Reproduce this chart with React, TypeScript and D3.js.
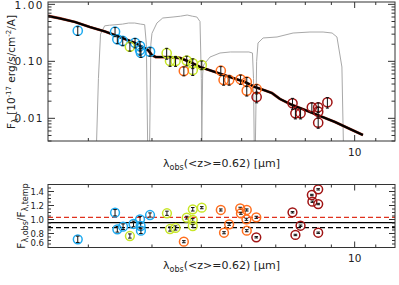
import React, { useEffect, useRef } from 'react';
import * as d3 from 'd3';

// Observed-frame template SED [lambda (um), F_lambda]
const templateLam = [2.5, 2.64, 2.825, 3.02, 3.235, 3.46, 3.705, 3.93, 4.0, 4.07, 4.34, 4.54, 4.75, 4.97, 5.32, 5.69, 6.09, 6.37, 6.67, 6.88, 7.13, 7.53, 7.99, 8.55, 9.15, 9.79, 10.38];
const templateFlux = [0.625, 0.565, 0.49, 0.401, 0.334, 0.2675, 0.21, 0.158, 0.129, 0.119, 0.119, 0.1145, 0.0975, 0.0796, 0.0651, 0.0531, 0.0434, 0.0355, 0.0308, 0.0278, 0.0219, 0.0172, 0.014, 0.011, 0.00863, 0.0065, 0.0051];

// filter response curves, scaled into flux units [lambda, value]
const filter1 = [[3.1, 0.001], [3.14, 0.05], [3.17, 0.3], [3.23, 0.42], [3.3, 0.43], [3.4, 0.44], [3.5, 0.45], [3.6, 0.47], [3.7, 0.47], [3.8, 0.45], [3.87, 0.44], [3.9, 0.2], [3.93, 0.001]];
const filter2 = [[3.95, 0.001], [3.98, 0.2], [4.0, 0.31], [4.09, 0.47], [4.2, 0.576], [4.4, 0.6], [4.55, 0.62], [4.69, 0.65], [4.8, 0.62], [4.9, 0.6], [4.97, 0.5], [5.0, 0.05], [5.015, 0.001]];
const filter3 = [[5.0, 0.001], [5.03, 0.06], [5.05, 0.086], [5.2, 0.119], [5.44, 0.14], [5.7, 0.146], [5.955, 0.146], [6.2, 0.146], [6.3, 0.14], [6.33, 0.05], [6.36, 0.001]];
const filter4 = [[6.37, 0.001], [6.42, 0.1], [6.46, 0.21], [6.61, 0.257], [7.04, 0.2675], [7.57, 0.314], [8.17, 0.327], [8.67, 0.327], [9.03, 0.314], [9.23, 0.2675], [9.44, 0.0796], [9.53, 0.001]];

// photometry [lambda, flux, error]
const ch1Flux = [[2.86, 0.345, 0.06], [3.385, 0.331, 0.06], [3.42, 0.244, 0.04], [3.505, 0.228, 0.04], [3.705, 0.212, 0.04], [3.79, 0.186, 0.035], [3.79, 0.158, 0.03], [3.805, 0.142, 0.025], [3.965, 0.148, 0.025]];
const ch2Flux = [[3.62, 0.181, 0.03], [4.275, 0.139, 0.03], [4.34, 0.1015, 0.02], [4.45, 0.1015, 0.02], [4.68, 0.103, 0.02], [4.81, 0.0925, 0.018], [4.81, 0.0705, 0.014], [5.01, 0.0863, 0.015]];
const ch3Flux = [[4.62, 0.0677, 0.012], [5.46, 0.0686, 0.012], [5.53, 0.0471, 0.009], [5.67, 0.0471, 0.009], [5.97, 0.0484, 0.009], [6.14, 0.044, 0.008], [6.14, 0.0306, 0.006], [6.42, 0.0328, 0.006]];
const ch4Flux = [[6.42, 0.0237, 0.005], [7.55, 0.0184, 0.004], [7.65, 0.01226, 0.0025], [7.83, 0.01226, 0.0025], [8.24, 0.01565, 0.003], [8.48, 0.01565, 0.003], [8.48, 0.0131, 0.0026], [8.48, 0.00838, 0.0017], [8.84, 0.0191, 0.004]];

// obs / template ratio [lambda, ratio, error]
const ch1Ratio = [[2.86, 0.717, 0.045], [3.385, 1.097, 0.045], [3.42, 0.86, 0.04], [3.51, 0.897, 0.04], [3.68, 0.936, 0.04], [3.79, 1.003, 0.04], [3.8, 0.907, 0.04], [3.805, 0.84, 0.04], [3.965, 1.064, 0.03]];
const ch2Ratio = [[3.62, 0.764, 0.03], [4.28, 1.089, 0.03], [4.34, 0.864, 0.03], [4.45, 0.879, 0.03], [4.68, 1.026, 0.02], [4.81, 1.146, 0.025], [4.81, 0.993, 0.02], [4.81, 0.907, 0.02], [5.01, 1.169, 0.015]];
const ch3Ratio = [[4.62, 0.683, 0.015], [5.46, 1.136, 0.015], [5.54, 0.811, 0.015], [5.67, 0.931, 0.015], [5.96, 1.16, 0.015], [5.98, 1.089, 0.015], [6.14, 1.136, 0.015], [6.13, 1.003, 0.015], [6.14, 0.84, 0.015], [6.41, 1.031, 0.015]];
const ch4Ratio = [[6.41, 0.746, 0.01], [7.55, 1.103, 0.01], [7.65, 0.779, 0.01], [7.83, 0.911, 0.01], [8.24, 1.35, 0.01], [8.26, 1.254, 0.01], [8.48, 1.431, 0.01], [8.48, 1.221, 0.01], [8.48, 0.811, 0.01]];

const bandColors = ['#1eaaf0', '#c8e628', '#ff6e1e', '#a01414'];

const refLines = [
  { v: 0.954, color: '#000', dash: null },
  { v: 1.031, color: '#e0321e', dash: '5,3' },
  { v: 0.883, color: '#000', dash: '5,3' },
];

const xMajor = [10];
const xMinor = [3, 4, 5, 6, 7, 8, 9, 11];
const yTopMajor = [0.01, 0.1, 1];
const yBotMajor = [0.6, 0.8, 1.0, 1.2, 1.4];

const W = 399;
const H = 285;
const left = 48;
const right = 395;
const top1 = 2;
const bot1 = 141;
const top2 = 184.5;
const bot2 = 247.5;
const font = 'DejaVu Sans, Liberation Sans, sans-serif';

const App = () => {
  const ref = useRef<SVGSVGElement>(null);

  useEffect(() => {
    const svg = d3.select(ref.current);
    svg.selectAll('*').remove();

    const x = d3.scaleLog().domain([2.5, 12]).range([left, right]);
    const y = d3.scaleLog().domain([0.004, 1.1]).range([bot1, top1]);
    const yr = d3.scaleLinear().domain([0.6, 1.5]).range([bot2, top2]);

    svg.append('rect').attr('width', W).attr('height', H).attr('fill', '#fff');

    const defs = svg.append('defs');
    defs.append('clipPath').attr('id', 'clipTop').append('rect')
      .attr('x', left).attr('y', top1).attr('width', right - left).attr('height', bot1 - top1);
    defs.append('clipPath').attr('id', 'clipBot').append('rect')
      .attr('x', left).attr('y', top2).attr('width', right - left).attr('height', bot2 - top2);

    // ---- top panel ----
    const gTop = svg.append('g').attr('clip-path', 'url(#clipTop)');
    const fline = d3.line<number[]>().x((d) => x(d[0])).y((d) => y(d[1]));
    [filter1, filter2, filter3, filter4].forEach((f) => {
      gTop.append('path').attr('d', fline(f)).attr('fill', 'none')
        .attr('stroke', '#a8a8a8').attr('stroke-width', 1);
    });

    const tpl = templateLam.map((l, i) => [l, templateFlux[i]]);
    gTop.append('path').attr('d', fline(tpl)).attr('fill', 'none')
      .attr('stroke', '#a0321e').attr('stroke-width', 2.8);
    gTop.append('path').attr('d', fline(tpl)).attr('fill', 'none')
      .attr('stroke', '#000').attr('stroke-width', 2);

    [ch1Flux, ch2Flux, ch3Flux, ch4Flux].forEach((pts, b) => {
      pts.forEach((p) => {
        const cx = x(p[0]);
        gTop.append('circle').attr('cx', cx).attr('cy', y(p[1])).attr('r', 4.6)
          .attr('fill', 'none').attr('stroke', bandColors[b]).attr('stroke-width', 1.5);
      });
    });
    [ch1Flux, ch2Flux, ch3Flux, ch4Flux].forEach((pts) => {
      pts.forEach((p) => {
        const cx = x(p[0]);
        const y0 = y(p[1] - p[2]);
        const y1 = y(p[1] + p[2]);
        gTop.append('line').attr('x1', cx).attr('x2', cx).attr('y1', y0).attr('y2', y1)
          .attr('stroke', '#111').attr('stroke-width', 1);
        [y0, y1].forEach((yy) => gTop.append('line').attr('x1', cx - 1.5).attr('x2', cx + 1.5)
          .attr('y1', yy).attr('y2', yy).attr('stroke', '#111').attr('stroke-width', 1));
      });
    });

    // ---- bottom panel ----
    const gBot = svg.append('g').attr('clip-path', 'url(#clipBot)');
    refLines.forEach((r) => {
      const l = gBot.append('line').attr('x1', left).attr('x2', right)
        .attr('y1', yr(r.v)).attr('y2', yr(r.v))
        .attr('stroke', r.color).attr('stroke-width', 1.3);
      if (r.dash) l.attr('stroke-dasharray', r.dash);
    });
    [ch1Ratio, ch2Ratio, ch3Ratio, ch4Ratio].forEach((pts, b) => {
      pts.forEach((p) => {
        const cx = x(p[0]);
        const cy = yr(p[1]);
        gBot.append('circle').attr('cx', cx).attr('cy', cy).attr('r', 4.4)
          .attr('fill', 'none').attr('stroke', bandColors[b]).attr('stroke-width', 1.5);
        const y0 = yr(p[1] - p[2]);
        const y1 = yr(p[1] + p[2]);
        gBot.append('line').attr('x1', cx).attr('x2', cx).attr('y1', y0).attr('y2', y1)
          .attr('stroke', '#111').attr('stroke-width', 1);
        [y0, y1].forEach((yy) => gBot.append('line').attr('x1', cx - 1.8).attr('x2', cx + 1.8)
          .attr('y1', yy).attr('y2', yy).attr('stroke', '#111').attr('stroke-width', 1));
      });
    });

    // ---- frames and ticks ----
    const axisColor = '#333';
    const frame = (t: number, b: number) => {
      svg.append('rect').attr('x', left).attr('y', t).attr('width', right - left).attr('height', b - t)
        .attr('fill', 'none').attr('stroke', axisColor).attr('stroke-width', 1);
      const tick = (x1: number, y1: number, x2: number, y2: number) =>
        svg.append('line').attr('x1', x1).attr('y1', y1).attr('x2', x2).attr('y2', y2)
          .attr('stroke', axisColor).attr('stroke-width', 1);
      xMajor.forEach((v) => { tick(x(v), b, x(v), b - 6); tick(x(v), t, x(v), t + 6); });
      xMinor.forEach((v) => { tick(x(v), b, x(v), b - 3); tick(x(v), t, x(v), t + 3); });
      return tick;
    };

    const tick1 = frame(top1, bot1);
    const yMinorTop = y.ticks().filter((v) => !yTopMajor.some((m) => Math.abs(m - v) < 1e-9));
    yTopMajor.forEach((v) => { tick1(left, y(v), left + 7, y(v)); tick1(right, y(v), right - 7, y(v)); });
    yMinorTop.forEach((v) => { tick1(left, y(v), left + 3.5, y(v)); tick1(right, y(v), right - 3.5, y(v)); });

    const tick2 = frame(top2, bot2);
    const yMinorBot = yr.ticks(18).filter((v) => !yBotMajor.some((m) => Math.abs(m - v) < 1e-9));
    yBotMajor.forEach((v) => { tick2(left, yr(v), left + 6, yr(v)); tick2(right, yr(v), right - 6, yr(v)); });
    yMinorBot.forEach((v) => { tick2(left, yr(v), left + 3, yr(v)); tick2(right, yr(v), right - 3, yr(v)); });

    // ---- labels ----
    const txt = (xx: number, yy: number, s: string, size: number, anchor = 'middle') =>
      svg.append('text').attr('x', xx).attr('y', yy).attr('font-family', font)
        .attr('font-size', size).attr('fill', '#222').attr('text-anchor', anchor).text(s);

    const fmt2 = d3.format('.2f');
    yTopMajor.forEach((v) => {
      txt(44, Math.max(y(v), 5.5) + 3.8, fmt2(v), 10.5, 'end').attr('letter-spacing', 1.5);
    });
    const fmt1 = d3.format('.1f');
    yBotMajor.forEach((v) => {
      txt(44, Math.min(yr(v), bot2 - 4.8) + 3, fmt1(v), 8.5, 'end');
    });
    xMajor.forEach((v) => {
      txt(x(v), 155.5, String(v), 10.5);
      txt(x(v), 261.5, String(v), 10.5);
    });

    const xTitle = (yy: number) => {
      const t = svg.append('text').attr('x', (left + right) / 2).attr('y', yy)
        .attr('font-family', font).attr('font-size', 11).attr('fill', '#222').attr('text-anchor', 'middle');
      t.append('tspan').text('λ');
      t.append('tspan').attr('dy', 3).attr('font-size', 8).text('obs');
      t.append('tspan').attr('dy', -3).text('(<z>=0.62) [μm]');
    };
    xTitle(167);
    xTitle(269);

    const yt1 = svg.append('text').attr('transform', `translate(15,72) rotate(-90)`)
      .attr('font-family', font).attr('font-size', 10.5).attr('fill', '#222').attr('text-anchor', 'middle');
    yt1.append('tspan').text('F');
    yt1.append('tspan').attr('dy', 3).attr('font-size', 8).text('λ');
    yt1.append('tspan').attr('dy', -3).text(' [10');
    yt1.append('tspan').attr('dy', -4).attr('font-size', 7).text('-17');
    yt1.append('tspan').attr('dy', 4).text(' erg/s/cm');
    yt1.append('tspan').attr('dy', -4).attr('font-size', 7).text('-2');
    yt1.append('tspan').attr('dy', 4).text('/A]');

    const yt2 = svg.append('text').attr('transform', `translate(25,216) rotate(-90)`)
      .attr('font-family', font).attr('font-size', 10.5).attr('fill', '#222').attr('text-anchor', 'middle');
    yt2.append('tspan').text('F');
    yt2.append('tspan').attr('dy', 3).attr('font-size', 8).text('λ,obs');
    yt2.append('tspan').attr('dy', -3).text('/F');
    yt2.append('tspan').attr('dy', 3).attr('font-size', 8).text('λ,temp');
  }, []);

  return (
    <div style={{ position: 'absolute', left: 0, top: 0 }}>
      <svg ref={ref} width={W} height={H} style={{ display: 'block' }}></svg>
    </div>
  );
};

export default App;
